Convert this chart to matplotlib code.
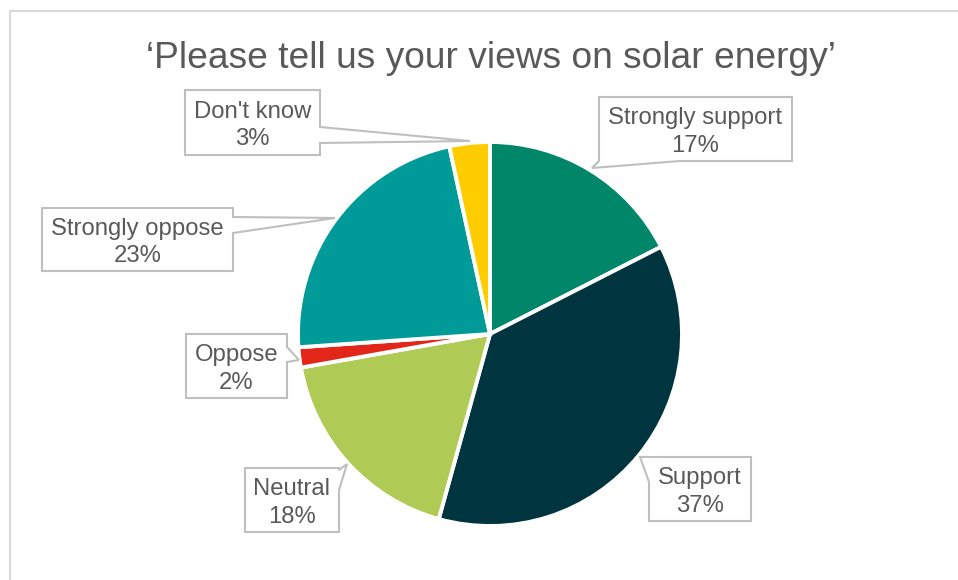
import numpy as np
import matplotlib.pyplot as plt
from matplotlib.patches import Polygon, Rectangle

labels = ["Strongly support", "Support", "Neutral", "Oppose", "Strongly oppose", "Don't know"]
values = [17.5, 36.8, 17.9, 1.7, 22.7, 3.4]
pct_labels = ["17%", "37%", "18%", "2%", "23%", "3%"]
colors = ["#00876A", "#00343F", "#B0CB55", "#E2261A", "#009A98", "#FFCC00"]

# callout layout in pixels (y down): box x0, y0, x1, y1, side, base a, base b, tip x, tip y
callouts = [
    (599, 97, 792, 161, "bottom", 599, 680, 592, 168),
    (649, 457, 751, 521, "left", 457, 482, 640, 457),
    (245, 468, 339, 532, "right", 470, 490, 347, 464),
    (186, 334, 287, 398, "right", 347, 362, 299, 360),
    (42, 208, 233, 271, "right", 217, 233, 335, 218),
    (185, 90, 320, 155, "right", 127, 143, 470, 141),
]

W, H = 958, 580
TXT = "#595959"
plt.rcParams['font.family'] = ['Liberation Sans', 'DejaVu Sans']

fig = plt.figure(figsize=(W / 100, H / 100), dpi=100)
ax = fig.add_axes([0, 0, 1, 1])

# chart border
ax.add_patch(Rectangle((10, -10), W + 20, H - 11 + 10, fill=False, ec="#D9D9D9", lw=1.5))

ax.text(491, H - 58, "\u2018Please tell us your views on solar energy\u2019",
        ha="center", va="center", fontsize=26.7, color=TXT)

ax.pie(values, colors=colors, startangle=90, counterclock=False,
       center=(490, H - 334), radius=192, frame=True,
       wedgeprops=dict(edgecolor="white", linewidth=2.8))
ax.set_xlim(0, W)
ax.set_ylim(0, H)
ax.set_aspect("equal")
ax.axis("off")


def callout(x0, y0, x1, y1, side, a, b, tx, ty):
    tl, tr, br, bl = (x0, y0), (x1, y0), (x1, y1), (x0, y1)
    if side == "top":
        pts = [tl, (a, y0), (tx, ty), (b, y0), tr, br, bl]
    elif side == "right":
        pts = [tl, tr, (x1, a), (tx, ty), (x1, b), br, bl]
    elif side == "bottom":
        pts = [tl, tr, br, (b, y1), (tx, ty), (a, y1), bl]
    else:
        pts = [tl, tr, br, bl, (x0, b), (tx, ty), (x0, a)]
    pts = [(px, H - py) for px, py in pts]
    ax.add_patch(Polygon(pts, closed=True, fc="white", ec="#BFBFBF", lw=1.5, zorder=5))


for lab, pct, c in zip(labels, pct_labels, callouts):
    x0, y0, x1, y1 = c[:4]
    callout(*c)
    ax.text((x0 + x1) / 2, H - (y0 + y1) / 2 - 3, f"{lab}\n{pct}", ha="center", va="center",
            fontsize=17.2, color=TXT, linespacing=1.35, zorder=6)

fig.savefig("out.png", dpi=100)
